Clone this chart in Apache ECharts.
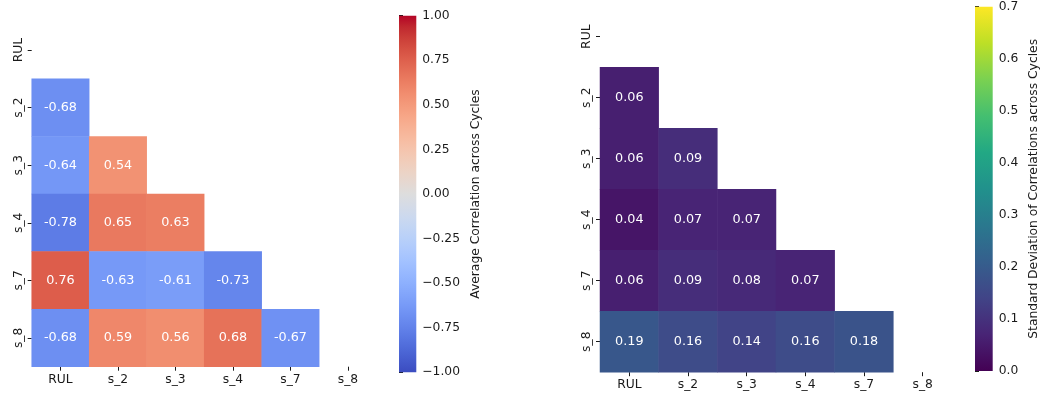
<!DOCTYPE html>
<html>
<head>
<meta charset="utf-8">
<script src="https://cdn.jsdelivr.net/npm/echarts@6/dist/echarts.min.js"></script>
<style>
  html, body { margin: 0; padding: 0; background: #fff; }
  #chart { width: 1043px; height: 396px; }
</style>
</head>
<body>
<div id="chart"></div>
<script>
// Sensor / RUL labels shared by both matrices
const labels = ['RUL', 's_2', 's_3', 's_4', 's_7', 's_8'];

// Lower triangle (below the diagonal), one row per label starting at s_2
const meanCorr = [
  [-0.68],
  [-0.64, 0.54],
  [-0.78, 0.65, 0.63],
  [0.76, -0.63, -0.61, -0.73],
  [-0.68, 0.59, 0.56, 0.68, -0.67]
];
const stdCorr = [
  [0.06],
  [0.06, 0.09],
  [0.04, 0.07, 0.07],
  [0.06, 0.09, 0.08, 0.07],
  [0.19, 0.16, 0.14, 0.16, 0.18]
];

// Colour scale ranges and titles
const meanRange = [-1, 1];
const stdRange = [0, 0.7];
const meanTitle = 'Average Correlation across Cycles';
const stdTitle = 'Standard Deviation of Correlations across Cycles';

// coolwarm (Moreland) and viridis colour ramps, evenly spaced stops
const coolwarm = [
  [59,76,192],[68,90,204],[77,104,215],[87,117,225],[98,130,234],[108,142,241],
  [119,154,247],[130,165,251],[141,176,254],[152,185,255],[163,194,255],[174,201,253],
  [184,208,249],[194,213,244],[204,217,238],[213,219,230],[221,221,221],[229,216,209],
  [236,211,197],[241,204,185],[245,196,173],[247,187,160],[247,177,148],[247,166,135],
  [244,154,123],[241,141,111],[236,127,99],[229,112,88],[222,96,77],[213,80,66],
  [203,62,56],[192,40,47],[180,4,38]
].map(c => `rgb(${c[0]},${c[1]},${c[2]})`);
const viridis = ['#440154','#482475','#414487','#355f8d','#2a788e','#21918c',
  '#22a884','#44bf70','#7ad151','#bddf26','#fde725'];

function toCells(rows) {
  const out = [];
  rows.forEach((row, i) => {
    row.forEach((v, j) => out.push([j, i + 1, v]));
  });
  return out;
}

function gradientStops(colors) {
  return colors.map((c, i) => ({ offset: i / (colors.length - 1), color: c }));
}

const FONT = 'DejaVu Sans';
const INK = '#1a1a1a';

function matrixAxes(gridIndex) {
  return {
    x: {
      type: 'category', gridIndex, data: labels,
      axisLine: { show: false },
      axisTick: { show: true, alignWithLabel: true, length: 4, lineStyle: { color: INK } },
      axisLabel: { color: INK, fontSize: 12.3, fontFamily: FONT, margin: 7 },
      splitLine: { show: false }, splitArea: { show: false }
    },
    y: {
      type: 'category', gridIndex, data: labels, inverse: true,
      axisLine: { show: false },
      axisTick: { show: true, alignWithLabel: true, length: 4, lineStyle: { color: INK } },
      axisLabel: { color: INK, fontSize: 12.3, fontFamily: FONT, rotate: 90, margin: 7 },
      splitLine: { show: false }, splitArea: { show: false }
    }
  };
}

function barAxes(gridIndex, range, interval, digits, title, gap) {
  return {
    x: { type: 'value', gridIndex, min: 0, max: 1, show: false },
    y: {
      type: 'value', gridIndex, min: range[0], max: range[1], interval,
      position: 'right',
      axisLine: { show: false },
      axisTick: { show: true, length: 4, lineStyle: { color: INK } },
      splitLine: { show: false },
      axisLabel: {
        color: INK, fontSize: 12.3, fontFamily: FONT, margin: 6,
        formatter: v => (v < 0 ? '\u2212' : '') + Math.abs(v).toFixed(digits)
      },
      name: title, nameLocation: 'middle', nameRotate: 90, nameGap: gap,
      nameTextStyle: { color: INK, fontSize: 12.3, fontFamily: FONT }
    }
  };
}

function colorBarSeries(axisIndex, range, colors) {
  return {
    type: 'custom', xAxisIndex: axisIndex, yAxisIndex: axisIndex,
    silent: true,
    data: [[0, range[0], 1, range[1]]],
    renderItem(params, api) {
      const tl = api.coord([api.value(0), api.value(3)]);
      const br = api.coord([api.value(2), api.value(1)]);
      return {
        type: 'rect',
        shape: { x: tl[0], y: tl[1], width: br[0] - tl[0], height: br[1] - tl[1] },
        style: { fill: new echarts.graphic.LinearGradient(0, 1, 0, 0, gradientStops(colors)) }
      };
    }
  };
}

function heatSeries(axisIndex, rows) {
  return {
    type: 'heatmap', xAxisIndex: axisIndex, yAxisIndex: axisIndex,
    data: toCells(rows),
    label: {
      show: true, color: '#ffffff', fontSize: 12.8, fontFamily: FONT,
      formatter: p => p.value[2].toFixed(2)
    },
    emphasis: { disabled: true }
  };
}

const mA = matrixAxes(0);
const cA = barAxes(1, meanRange, 0.25, 2, meanTitle, 54);
const sA = matrixAxes(2);
const dA = barAxes(3, stdRange, 0.1, 1, stdTitle, 35);

const chart = echarts.init(document.getElementById('chart'), null, { renderer: 'canvas' });
chart.setOption({
  animation: false,
  backgroundColor: '#ffffff',
  textStyle: { fontFamily: FONT },
  grid: [
    { left: 31.7, top: 21.3, width: 345, height: 345.4 },
    { left: 399, top: 15.7, width: 17.3, height: 356.6 },
    { left: 600, top: 6.2, width: 352, height: 366 },
    { left: 975, top: 6.7, width: 17.7, height: 364.3 }
  ],
  xAxis: [mA.x, cA.x, sA.x, dA.x],
  yAxis: [mA.y, cA.y, sA.y, dA.y],
  visualMap: [
    { type: 'continuous', show: false, seriesIndex: 0, min: meanRange[0], max: meanRange[1],
      dimension: 2, inRange: { color: coolwarm } },
    { type: 'continuous', show: false, seriesIndex: 2, min: stdRange[0], max: stdRange[1],
      dimension: 2, inRange: { color: viridis } }
  ],
  series: [
    heatSeries(0, meanCorr),
    colorBarSeries(1, meanRange, coolwarm),
    heatSeries(2, stdCorr),
    colorBarSeries(3, stdRange, viridis)
  ]
});
</script>
</body>
</html>
